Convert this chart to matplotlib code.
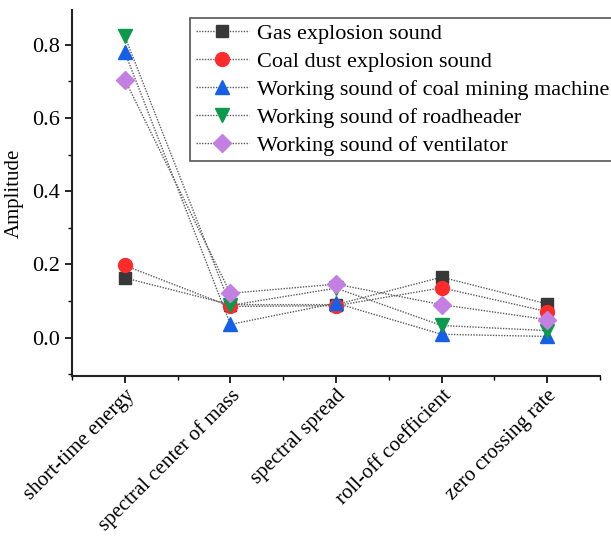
import matplotlib
matplotlib.use("Agg")
import matplotlib.pyplot as plt
from matplotlib.ticker import MultipleLocator

categories = ["short-time energy", "spectral center of mass", "spectral spread",
              "roll-off coefficient", "zero crossing rate"]
series_names = ["Gas explosion sound", "Coal dust explosion sound",
                "Working sound of coal mining machine", "Working sound of roadheader",
                "Working sound of ventilator"]
gas = [0.163, 0.090, 0.090, 0.165, 0.092]
coal_dust = [0.197, 0.085, 0.087, 0.136, 0.071]
mining = [0.780, 0.036, 0.094, 0.009, 0.003]
roadheader = [0.823, 0.088, 0.135, 0.033, 0.019]
ventilator = [0.705, 0.121, 0.146, 0.090, 0.049]
y_ticks = [0.0, 0.2, 0.4, 0.6, 0.8]

series = [gas, coal_dust, mining, roadheader, ventilator]
markers = ["s", "o", "^", "v", "D"]
colors = ["#383838", "#ff2b2b", "#1560e6", "#0b9a4c", "#c47fe3"]
msizes = [9, 10, 10, 10, 9]

plt.rcParams["font.family"] = ["Liberation Serif", "DejaVu Serif"]

fig = plt.figure(figsize=(6.11, 5.37), dpi=100)
ax = fig.add_axes([72/611, 1-376/537, (600-72)/611, (376-10)/537])

x = list(range(1, len(categories) + 1))
for vals, name, m, c, ms in zip(series, series_names, markers, colors, msizes):
    ax.plot(x, vals, linestyle=(0, (1, 1)), color="#5a5a5a", linewidth=1.0,
            marker=m, markersize=ms, markerfacecolor=c, markeredgecolor=c,
            label=name)

ax.set_xlim(0.5, 5.5)
ax.set_ylim(-0.105, 0.895)
ax.set_xticks(x)
ax.set_xticklabels(categories, rotation=45, ha="right", rotation_mode="anchor",
                   fontsize=15)
ax.set_xticks([0.5, 1.5, 2.5, 3.5, 4.5, 5.5], minor=True)
ax.set_yticks(y_ticks)
ax.set_yticklabels([f"{v:.1f}" for v in y_ticks], fontsize=16)
ax.yaxis.set_minor_locator(MultipleLocator(0.1))
ax.tick_params(axis="both", which="major", direction="out", length=5, width=1.2)
ax.tick_params(axis="both", which="minor", direction="out", length=3, width=1.0)
ax.tick_params(axis="x", which="major", pad=2)
ax.set_ylabel("Amplitude", fontsize=15, labelpad=6)

for s in ["top", "right"]:
    ax.spines[s].set_visible(False)
for s in ["left", "bottom"]:
    ax.spines[s].set_linewidth(1.5)
    ax.spines[s].set_color("#222222")

leg = ax.legend(loc="upper left", bbox_to_anchor=(190/611, 1-18/537),
                bbox_transform=fig.transFigure, fontsize=16, frameon=True,
                fancybox=False, edgecolor="#555555", framealpha=1,
                handlelength=2.4, handletextpad=0.35, labelspacing=0.33,
                borderpad=0.25, borderaxespad=0)
leg.get_frame().set_linewidth(1.2)

fig.savefig("out.png", dpi=100)
